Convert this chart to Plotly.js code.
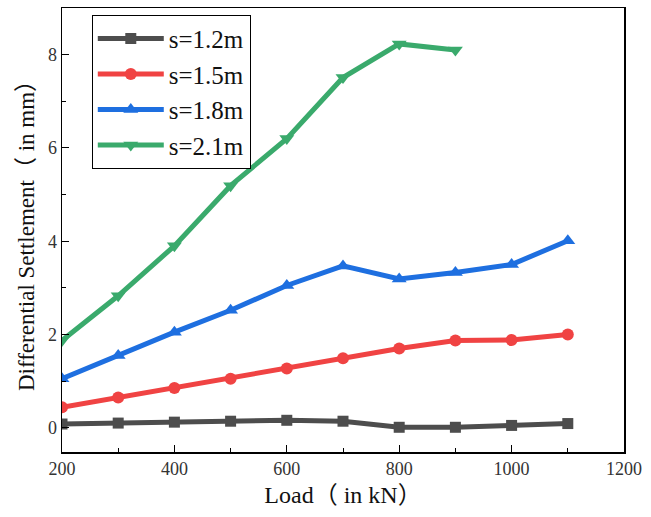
<!DOCTYPE html>
<html><head><meta charset="utf-8">
<script src="https://cdn.plot.ly/plotly-3.0.1.min.js"></script>
<style>html,body{margin:0;padding:0;background:#fff;}</style>
</head><body>
<div id="chart" style="width:651px;height:517px;"></div>
<script>
const loads = [200,300,400,500,600,700,800,900,1000,1100];
const loads21 = [200,300,400,500,600,700,800,900];
const s12 = [0.08,0.10,0.12,0.14,0.16,0.14,0.01,0.01,0.05,0.09];
const s15 = [0.44,0.65,0.85,1.05,1.27,1.49,1.70,1.87,1.88,2.00];
const s18 = [1.05,1.55,2.05,2.52,3.05,3.47,3.19,3.33,3.50,4.01];
const s21 = [1.87,2.83,3.90,5.19,6.20,7.51,8.23,8.10];
const names = ['s=1.2m','s=1.5m','s=1.8m','s=2.1m'];
const colors = ['#4d4d4d','#f04343','#1e6fe0','#3aaa6c'];
const symbols = ['square','circle','triangle-up','triangle-down'];
const xs = [loads,loads,loads,loads21];
const ys = [s12,s15,s18,s21];
const font = 'Liberation Serif, Times New Roman, Noto Sans CJK SC, serif';
const traces = ys.map((y,i)=>({
  x: xs[i], y: y, name: names[i], type:'scatter', mode:'lines+markers',
  line:{color:colors[i], width:5},
  marker:{color:colors[i], symbol:symbols[i], size:i===0?11:(i===1?12:13)}
}));
const layout = {
  width:651, height:517,
  margin:{l:62,r:27,t:8,b:65},
  paper_bgcolor:'#fff', plot_bgcolor:'#fff',
  font:{family:font, color:'#222'},
  showlegend:true,
  legend:{x:0.053,y:0.985,xanchor:'left',yanchor:'top',bgcolor:'#fff',
    bordercolor:'#000',borderwidth:1,font:{family:font,size:25,color:'#111'},
    itemwidth:66, tracegroupgap:0},
  xaxis:{range:[200,1200], tickvals:[200,400,600,800,1000,1200], ticks:'inside', ticklen:7,
    tickcolor:'#000', showline:true, linecolor:'#000', linewidth:1.5, mirror:true,
    showgrid:false, zeroline:false, tickfont:{family:font,size:18,color:'#333'},
    minor:{tickvals:[300,500,700,900,1100], ticks:'inside', ticklen:4, tickcolor:'#000', showgrid:false},
    title:{text:'Load（ in kN）', font:{family:font,size:24,color:'#111'}, standoff:8}},
  yaxis:{range:[-0.52,9.0], tickvals:[0,2,4,6,8], ticks:'inside', ticklen:7,
    tickcolor:'#000', showline:true, linecolor:'#000', linewidth:1.5, mirror:true,
    showgrid:false, zeroline:false, tickfont:{family:font,size:18,color:'#333'},
    minor:{tickvals:[1,3,5,7], ticks:'inside', ticklen:4, tickcolor:'#000', showgrid:false},
    title:{text:'Differential Settlement（ in mm）', font:{family:font,size:23,color:'#111'}, standoff:7}}
};
Plotly.newPlot('chart', traces, layout, {displayModeBar:false, staticPlot:true});
</script>
</body></html>
